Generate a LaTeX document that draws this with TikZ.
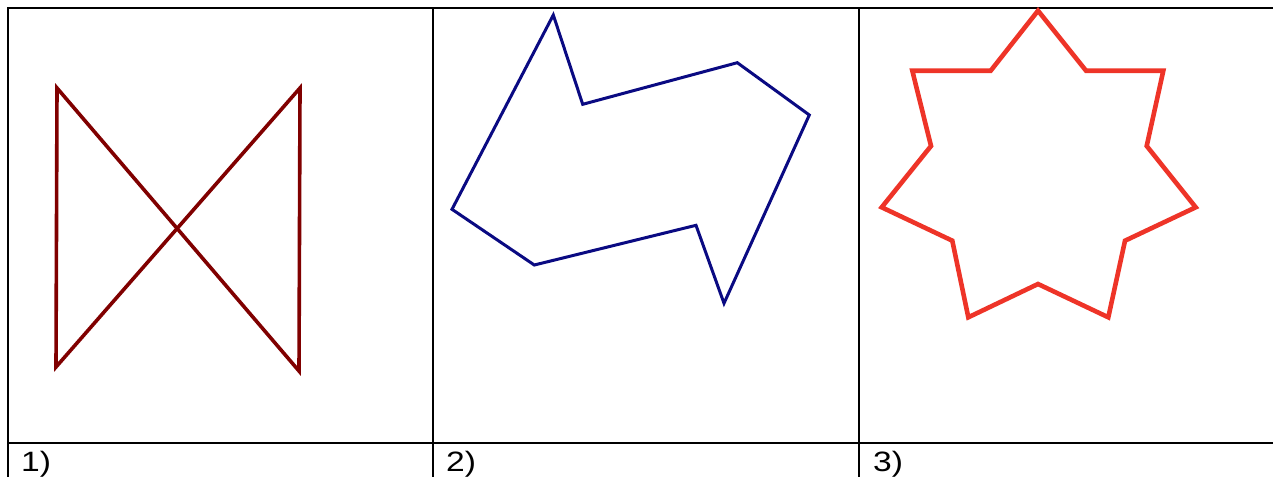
\documentclass[tikz,border=0pt]{standalone}
\usepackage{fontspec}
\setmainfont{Liberation Sans}
\newfontfamily\lblfont[FakeStretch=1.2]{Liberation Sans}
\begin{document}
\begin{tikzpicture}[x=1pt,y=-1pt,
  gridline/.style={line width=2.3pt,black},
  lbl/.style={anchor=base west,inner sep=0pt,font=\lblfont\fontsize{28}{31}\selectfont},
  figA/.style={line width=3.6pt,draw={rgb,255:red,128;green,0;blue,0},line join=miter},
  figB/.style={line width=3pt,draw={rgb,255:red,10;green,10;blue,130},line join=miter},
  figC/.style={line width=4.6pt,draw={rgb,255:red,238;green,52;blue,40},line join=miter}]
\useasboundingbox (0,0) rectangle (1273,477);
% table
\coordinate (tl) at (8,8);
\coordinate (tr) at (1273,8);
\coordinate (ml) at (8,443);
\coordinate (mr) at (1273,443);
\draw[gridline] (tl) -- (tr);
\draw[gridline] (ml) -- (mr);
\draw[gridline] (8,7) -- (8,477);
\draw[gridline] (433,7) -- (433,477);
\draw[gridline] (859,7) -- (859,477);
% labels
\node[lbl] (l1) at (21,471) {1)};
\node[lbl] (l2) at (446,471) {2)};
\node[lbl] (l3) at (873,471) {3)};
% figure 1
\coordinate (a1) at (57,88);
\coordinate (a2) at (299,371);
\coordinate (a3) at (300,88);
\coordinate (a4) at (56,367);
\draw[figA] (a1) -- (a2) -- (a3) -- (a4) -- cycle;
% figure 2
\coordinate (b1) at (553.3,15);
\coordinate (b2) at (582.7,104.3);
\coordinate (b3) at (737.3,62.7);
\coordinate (b4) at (809.3,115);
\coordinate (b5) at (724,303.3);
\coordinate (b6) at (696,225.3);
\coordinate (b7) at (534.3,265);
\coordinate (b8) at (452,209.3);
\draw[figB] (b1) -- (b2) -- (b3) -- (b4) -- (b5) -- (b6) -- (b7) -- (b8) -- cycle;
% figure 3
\coordinate (c1) at (1038,10.7);
\coordinate (c2) at (1086,70.7);
\coordinate (c3) at (1163.3,70.7);
\coordinate (c4) at (1146.7,146);
\coordinate (c5) at (1195.7,207.3);
\coordinate (c6) at (1125,240.7);
\coordinate (c7) at (1108.3,317.3);
\coordinate (c8) at (1038,284);
\coordinate (c9) at (968.3,317.3);
\coordinate (c10) at (952.3,240.7);
\coordinate (c11) at (881.7,207.3);
\coordinate (c12) at (931,146);
\coordinate (c13) at (912.3,70.7);
\coordinate (c14) at (990.7,70.7);
\draw[figC] (c1) -- (c2) -- (c3) -- (c4) -- (c5) -- (c6) -- (c7) -- (c8) -- (c9) -- (c10) -- (c11) -- (c12) -- (c13) -- (c14) -- cycle;
\end{tikzpicture}
\end{document}
